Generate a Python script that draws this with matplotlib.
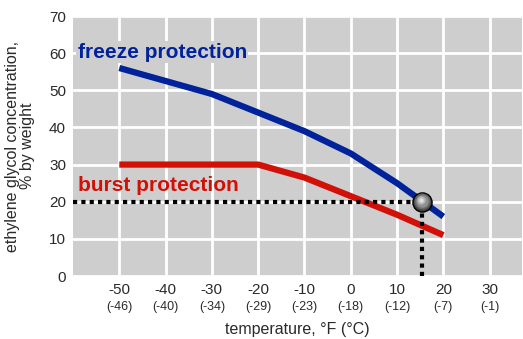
import numpy as np
import matplotlib.pyplot as plt

plt.rcParams['font.family'] = ['Liberation Sans', 'DejaVu Sans']

temp_f = [-50, -40, -30, -20, -10, 0, 10, 20, 30]
temp_c = ['(-46)', '(-40)', '(-34)', '(-29)', '(-23)', '(-18)', '(-12)', '(-7)', '(-1)']

freeze_t = [-50, -40, -30, -20, -10, 0, 10, 20]
freeze_pct = [56, 52.5, 49, 44, 39, 33, 25, 16]

burst_t = [-50, -20, -10, 0, 10, 20]
burst_pct = [30, 30, 26.5, 21.5, 16.5, 11]

point_t = 15.5
point_pct = 20

blue = '#00229a'
red = '#d11008'
txt = '#2a2a2a'

fig = plt.figure(figsize=(5.23, 3.39), dpi=100)
ax = fig.add_axes([73/523, 1 - 276/339, (522-73)/523, (276-16)/339])
ax.set_facecolor('#cecece')
ax.set_xlim(-60, 37)
ax.set_ylim(0, 70)
for s in ax.spines.values():
    s.set_visible(False)
ax.set_xticks(temp_f)
ax.set_xticklabels([str(t) for t in temp_f], fontsize=11, color=txt)
ax.set_yticks(range(0, 71, 10))
ax.set_yticklabels([str(v) for v in range(0, 71, 10)], fontsize=11, color=txt)
ax.tick_params(length=0, pad=5)
ax.grid(color='white', lw=2)
ax.set_axisbelow(True)

for t, c in zip(temp_f, temp_c):
    ax.text(t, -0.095, c, transform=ax.get_xaxis_transform(), ha='center', va='top',
            fontsize=9, color=txt)

ax.set_xlabel('temperature, °F (°C)', fontsize=11.5, color=txt, labelpad=18)
ax.set_ylabel('ethylene glycol concentration,\n% by weight', fontsize=11.5, color=txt,
              labelpad=10, linespacing=1.0)

ax.plot(freeze_t, freeze_pct, color=blue, lw=4.5, solid_capstyle='butt', zorder=3)
ax.plot(burst_t, burst_pct, color=red, lw=4.5, solid_capstyle='butt', zorder=3)

ax.plot([-60, point_t], [point_pct, point_pct], color='black', lw=3, ls=(0, (1, 1)), zorder=4)
ax.plot([point_t, point_t], [0, point_pct], color='black', lw=3, ls=(0, (1, 1)), zorder=4)

# shaded ball marker
ax.scatter([point_t], [point_pct], s=190, color='#444444', edgecolor='black', lw=1, zorder=5)
for size, col, dx, dy in [(130, '#6a6a6a', -0.1, 0.1), (80, '#909090', -0.2, 0.25),
                          (35, '#b8b8b8', -0.3, 0.4), (10, '#e0e0e0', -0.35, 0.5)]:
    ax.scatter([point_t + dx], [point_pct + dy], s=size, color=col, lw=0, zorder=6)

ax.text(-59, 60.3, 'freeze protection', color=blue, fontsize=15, fontweight='bold',
        va='center', zorder=6, bbox=dict(facecolor='#cecece', edgecolor='none', pad=1))
ax.text(-59, 24.5, 'burst protection', color=red, fontsize=15, fontweight='bold',
        va='center', zorder=6)

fig.savefig('out.png', dpi=100)
